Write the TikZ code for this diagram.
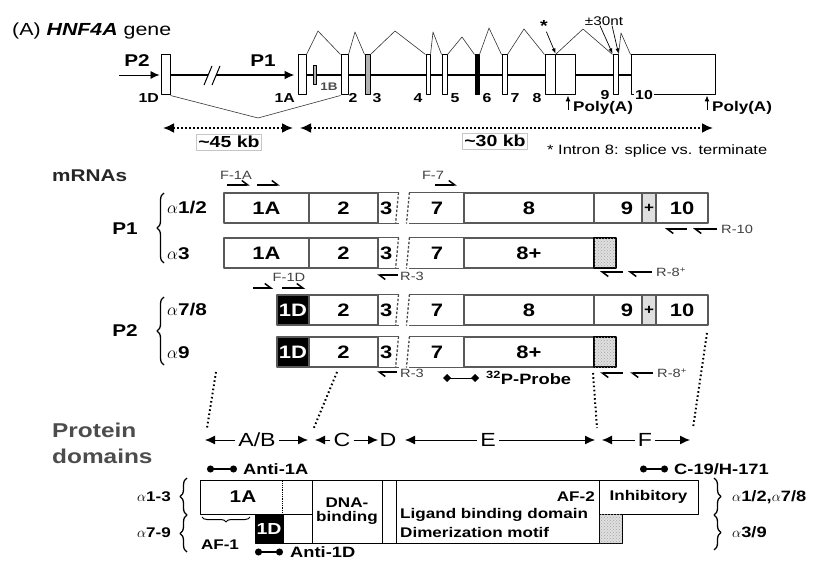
\documentclass[tikz,border=0pt]{standalone}
\usepackage{fontspec}
\setmainfont{Liberation Sans}[FakeStretch=1.22]
\usetikzlibrary{arrows.meta,decorations.pathreplacing,patterns,positioning}
\newcommand{\fsz}[1]{\fontsize{#1}{#1}\selectfont}

\begin{document}
\begin{tikzpicture}[x=1pt, y=1pt, >=Latex, line join=round]
	\useasboundingbox (0,0) rectangle (816,-561);

	% Define node styles
	\tikzstyle{exon} = [draw, fill=white, line width=1pt, inner sep=0pt, minimum height=40pt]
	\tikzstyle{exlab} = [font=\fsz{13}\bfseries, inner sep=0pt]
	\tikzstyle{gene} = [line width=1.8pt]
	\tikzstyle{splice} = [line width=0.6pt, black!80]
	\tikzstyle{thinarr} = [line width=0.7pt, -{Latex[length=5pt,width=4pt]}]
	\tikzstyle{polyarr} = [line width=1pt, -{Latex[length=6pt,width=5pt]}]
	\tikzstyle{kbrange} = [line width=2pt, dash pattern=on 2pt off 2pt, {Latex[length=11pt,width=10pt]}-{Latex[length=11pt,width=10pt]}]
	\tikzstyle{kb} = [draw=gray!45, line width=0.5pt, fill=white, inner sep=2pt, font=\fsz{16}\bfseries]
	\tikzstyle{bigbold} = [font=\fsz{17}\bfseries, inner sep=0pt]
	\tikzstyle{alab} = [font=\fsz{17}\bfseries, inner sep=0pt]
	\tikzstyle{seg} = [draw=black!65, line width=1.1pt, inner sep=0pt, minimum height=30pt, font=\fsz{18}\bfseries]
	\tikzstyle{segline} = [draw=black!65, line width=1.1pt]
	\tikzstyle{brk} = [draw=black!70, line width=1.3pt, dash pattern=on 2.5pt off 1.8pt]
	\tikzstyle{primer} = [line width=1.5pt, -{Straight Barb[left, length=6pt, width=9pt]}]
	\tikzstyle{plab} = [font=\fsz{12}, text=black!75, inner sep=0pt]
	\tikzstyle{probeline} = [line width=1pt, {Turned Square[length=8pt,width=8pt]}-{Turned Square[length=8pt,width=8pt]}]
	\tikzstyle{linkdots} = [line width=2pt, dash pattern=on 1.6pt off 2.6pt]
	\tikzstyle{dom} = [line width=1pt, -{Latex[length=10pt,width=9pt]}]
	\tikzstyle{domlab} = [font=\fsz{19}, inner sep=3pt]
	\tikzstyle{abline} = [line width=1.2pt, {Circle[length=7pt]}-{Circle[length=7pt]}]
	\tikzstyle{ablab} = [font=\fsz{15}\bfseries, inner sep=0pt]
	\tikzstyle{pbox} = [draw, line width=1pt, inner sep=0pt, font=\fsz{14}\bfseries, align=center]
	\tikzstyle{ptext} = [font=\fsz{14}\bfseries, inner sep=0pt]
	\tikzstyle{lbrace} = [decorate, decoration={brace, amplitude=7pt}, line width=1.3pt]

	% Gene
	\node[anchor=west, font=\fsz{17.5}, inner sep=0pt] (title) at (12,-31) {(A) \textbf{\textit{HNF4A}} gene};

	\node[exon, minimum width=9pt] (e1D) at (165.5,-75) {};
	\node[exon, minimum width=8pt] (e1A) at (302,-75) {};
	\node[exon, minimum width=7pt] (e2) at (344.5,-75) {};
	\node[exon, minimum width=5pt, fill=gray!60] (e3) at (367.5,-75) {};
	\node[exon, minimum width=4pt] (e4) at (428,-75) {};
	\node[exon, minimum width=5pt] (e5) at (444.5,-75) {};
	\node[exon, minimum width=4pt, fill=black] (e6) at (477,-75) {};
	\node[exon, minimum width=5pt] (e7) at (504.5,-75) {};
	\node[exon, minimum width=30pt] (e8) at (560,-75) {};
	\node[exon, minimum width=5pt] (e9) at (615.5,-75) {};
	\node[exon, minimum width=84pt] (e10) at (673,-75) {};
	\draw[line width=1pt] ([xshift=11pt]e8.north west) -- ([xshift=11pt]e8.south west);

	\foreach \src/\dst in {e1A/e2, e2/e3, e3/e4, e4/e5, e5/e6, e6/e7, e7/e8, e8/e9, e9/e10}
	\draw[gene] (\src.east) -- (\dst.west);
	\node[exon, minimum width=3pt, minimum height=19pt, fill=gray!60, line width=0.6pt] (e1B) at (314.5,-75) {};

	% Promoters
	\coordinate (p2start) at (119,-75);
	\draw[line width=0.8pt, -{Latex[length=9pt,width=8pt]}] (p2start) -- ([xshift=-1pt]e1D.west);
	\draw[gene, -{Latex[length=10pt,width=9pt]}] (e1D.east) -- ([xshift=-3pt]e1A.west);
	\fill[white] (204,-85) -- (212,-66) -- (220,-66) -- (212,-85) -- cycle;
	\draw[line width=1pt] (204,-85) -- (212,-66) (212,-85) -- (220,-66);
	\node[bigbold] (lP2) at (137,-61) {P2};
	\node[bigbold] (lP1) at (263,-61) {P1};

	% Splicing
	\draw[splice] (e1D.south east) -- (258,-118) -- (e2.south west);
	\foreach \src/\px/\py/\dst in {e1A/318/31/e2, e2/355/32/e3, e3/395/31/e4, e4/433/32/e5, e5/462/37/e6, e6/489/28/e7, e7/524/29/e8, e9/621/33/e10}
	\draw[splice] (\src.north east) -- (\px,-\py) -- (\dst.north west);
	\draw[splice] ([xshift=11pt]e8.north west) -- (583,-29) -- (e9.north west);

	% Exon labels
	\node[exlab, anchor=east] (l1D) at (159,-98) {1D};
	\node[exlab, anchor=east] (l1A) at (295,-98) {1A};
	\node[exlab, font=\fsz{11}\bfseries, text=black!70] (l1B) at (329,-87) {1B};
	\foreach \nm/\xx in {2/353, 3/377, 4/418, 5/455, 6/487, 7/515, 8/537}
	\node[exlab] (l\nm) at (\xx,-98) {\nm};
	\node[exlab] (l9) at (605,-95) {9};
	\node[exlab, fill=white, inner sep=1.5pt] (l10) at (644,-95) {10};

	\node[font=\fsz{16}\bfseries, inner sep=0pt] (star) at (544,-26) {*};
	\draw[thinarr] (star) -- ([xshift=11pt,yshift=1pt]e8.north west);
	\node[font=\fsz{12.5}, inner sep=0pt] (pm30) at (604,-21) {±30nt};
	\draw[thinarr] ([xshift=-4pt]pm30.south) -- ([yshift=1pt]e9.north west);
	\draw[thinarr] ([xshift=8pt]pm30.south) -- ([yshift=1pt]e9.north east);

	\coordinate (pa1) at (568,-110);
	\coordinate (pa2) at (707,-110);
	\draw[polyarr] (pa1) -- (pa1 |- e8.south);
	\draw[polyarr] (pa2) -- (pa2 |- e10.south);
	\node[ptext, anchor=west] (lpa1) at (573,-108) {Poly(A)};
	\node[ptext, anchor=west] (lpa2) at (712,-108) {Poly(A)};

	\coordinate (k45a) at (163,-128);
	\coordinate (k45b) at (293,-128);
	\coordinate (k30a) at (300,-128);
	\coordinate (k30b) at (713,-128);
	\draw[kbrange] (k45a) -- (k45b);
	\draw[kbrange] (k30a) -- (k30b);
	\node[kb] (k45) at (229,-142) {\textasciitilde 45 kb};
	\node[kb] (k30) at (495,-141) {\textasciitilde 30 kb};
	\node[anchor=west, font=\fsz{13.5}, inner sep=0pt] (intron) at (547,-151) {* Intron 8: splice vs. terminate};

	% mRNAs
	\node[anchor=west, font=\fsz{17}\bfseries, text=black!85, inner sep=0pt] (mrnas) at (52,-176) {mRNAs};
	\node[bigbold] (mP1) at (125,-229) {P1};
	\node[bigbold] (mP2) at (125,-331) {P2};
	\draw[lbrace] (164,-263) -- (164,-193);
	\draw[lbrace] (164,-365) -- (164,-297);
	\node[alab, anchor=west] (a12) at (167,-208) {$\alpha$1/2};
	\node[alab, anchor=west] (a3) at (167,-254) {$\alpha$3};
	\node[alab, anchor=west] (a78) at (167,-310) {$\alpha$7/8};
	\node[alab, anchor=west] (a9) at (167,-353) {$\alpha$9};

	\node[seg, minimum width=85pt] (r1x1A) at (266.5,-208) {1A};
	\node[seg, minimum width=85pt] (r2x1A) at (266.5,-253) {1A};
	\node[seg, minimum width=32pt, fill=black, text=white] (r3x1D) at (293,-310) {1D};
	\node[seg, minimum width=32pt, fill=black, text=white] (r4x1D) at (293,-352) {1D};

	\foreach \row/\yc in {r1/208, r2/253, r3/310, r4/352} {
		\node[seg, minimum width=69pt] (\row x2) at (343.5,-\yc) {2};
		\node[seg, draw=none, minimum width=20pt, text width=16pt, align=left] (\row x3) at (388,-\yc) {3};
		\node[seg, draw=none, minimum width=54pt] (\row x7) at (437,-\yc) {7};
		\draw[segline] (\row x3.north west) -- (\row x3.north east) (\row x3.south west) -- (\row x3.south east);
		\draw[segline] (\row x7.north west) -- (\row x7.north east) (\row x7.south west) -- (\row x7.south east);
		\draw[brk] (\row x3.north east) -- ([xshift=-3pt]\row x3.south east);
		\draw[brk] (\row x7.north west) -- ([xshift=-3pt]\row x7.south west);
	}
	\foreach \row/\yc in {r1/208, r3/310} {
		\node[seg, minimum width=130pt] (\row x8) at (529,-\yc) {8};
		\node[seg, minimum width=48pt, text width=30pt, align=right] (\row x9) at (618,-\yc) {9};
		\node[seg, minimum width=14pt, fill=gray!25, font=\fsz{14}\bfseries] (\row xp) at (649,-\yc) {+};
		\node[seg, minimum width=52pt] (\row x10) at (682,-\yc) {10};
	}
	\foreach \row/\yc in {r2/253, r4/352} {
		\node[seg, minimum width=130pt] (\row x8) at (529,-\yc) {8+};
		\node[seg, minimum width=22pt, draw=black, line width=1.5pt, fill=gray!25, postaction={pattern=crosshatch dots, pattern color=gray!70}] (\row xg) at (605,-\yc) {};
	}

	% Primers
	\foreach \xa/\xb/\yy in {227/250/185, 257/280/185, 435/457/185, 253/273/288, 282/305/288, 687/665/229, 717/693/229, 623/600/272, 652/628/272, 398/377/275, 397/377/372, 623/600/373, 653/630/373}
	\draw[primer] (\xa,-\yy) -- (\xb,-\yy);
	\node[plab] (pF1A) at (236,-175) {F-1A};
	\node[plab] (pF7) at (433,-175) {F-7};
	\node[plab] (pF1D) at (289,-277) {F-1D};
	\node[plab, anchor=west] (pR10) at (721,-229) {R-10};
	\node[plab, anchor=west] (pR8a) at (656,-272) {R-8\textsuperscript{+}};
	\node[plab, anchor=west] (pR3a) at (400,-276) {R-3};
	\node[plab, anchor=west] (pR3b) at (400,-373) {R-3};
	\node[plab, anchor=west] (pR8b) at (657,-373) {R-8\textsuperscript{+}};

	\coordinate (prA) at (443,-378);
	\coordinate (prB) at (479,-378);
	\draw[probeline] (prA) -- (prB);
	\node[anchor=west, font=\fsz{15}\bfseries, inner sep=0pt] (probe) at (486,-378) {\textsuperscript{32}P-Probe};

	% Links to protein
	\coordinate (lk1a) at (216,-372);
	\coordinate (lk1b) at (207,-428);
	\coordinate (lk2a) at (337,-372);
	\coordinate (lk2b) at (313,-430);
	\coordinate (lk3a) at (593,-373);
	\coordinate (lk3b) at (597,-428);
	\coordinate (lk4a) at (707,-333);
	\coordinate (lk4b) at (693,-428);
	\foreach \src/\dst in {lk1a/lk1b, lk2a/lk2b, lk3a/lk3b, lk4a/lk4b}
	\draw[linkdots] (\src) -- (\dst);

	% Protein domains
	\node[anchor=west, align=left, font=\fontsize{20}{26}\selectfont\bfseries, inner sep=0pt, text=black!70] (pdom) at (52,-443) {Protein\\domains};

	\node[domlab] (dAB) at (257,-440) {A/B};
	\node[domlab] (dC) at (342,-440) {C};
	\node[domlab] (dD) at (388,-440) {D};
	\node[domlab] (dE) at (488,-440) {E};
	\node[domlab] (dF) at (645,-440) {F};
	\foreach \lab/\xl/\xr in {dAB/205/308, dC/315/378, dE/405/595, dF/602/690} {
		\draw[dom] (\lab.west) -- (\xl,-440);
		\draw[dom] (\lab.east) -- (\xr,-440);
	}

	\coordinate (an1a) at (207,-469);
	\coordinate (an1b) at (237,-469);
	\coordinate (an2a) at (255,-552);
	\coordinate (an2b) at (283,-552);
	\coordinate (an3a) at (640,-469);
	\coordinate (an3b) at (668,-469);
	\draw[abline] (an1a) -- (an1b);
	\draw[abline] (an2a) -- (an2b);
	\draw[abline] (an3a) -- (an3b);
	\node[ablab, anchor=west] (lan1) at (243,-469) {Anti-1A};
	\node[ablab, anchor=west] (lan2) at (290,-552) {Anti-1D};
	\node[ablab, anchor=west] (lan3) at (674,-469) {C-19/H-171};

	\node[pbox, minimum width=112pt, minimum height=34pt] (p1A) at (256,-497) {};
	\node[ptext, font=\fsz{17}\bfseries] (t1A) at (243,-497) {1A};
	\draw[densely dotted, line width=0.8pt] ([xshift=83pt]p1A.north west) -- ([xshift=83pt]p1A.south west);
	\node[pbox, minimum width=28pt, minimum height=29pt, fill=black, text=white, font=\fsz{16}\bfseries] (p1D) at (269,-528.5) {1D};
	\node[pbox, minimum width=29pt, minimum height=29pt] (pgap) at (297.5,-528.5) {};
	\node[pbox, minimum width=70pt, minimum height=63pt] (pDNA) at (347,-511.5) {DNA-\\binding};
	\node[pbox, minimum width=14pt, minimum height=63pt] (pD) at (389,-511.5) {};
	\node[pbox, minimum width=203pt, minimum height=63pt] (pE) at (497.5,-511.5) {};
	\node[ptext, anchor=east] (tAF2) at (595,-497) {AF-2};
	\node[ptext, anchor=west] (tLBD) at (400,-515) {Ligand binding domain};
	\node[ptext, anchor=west] (tDim) at (400,-532) {Dimerization motif};
	\node[pbox, minimum width=99pt, minimum height=34pt] (pF) at (648.5,-497) {Inhibitory};
	\node[pbox, minimum width=23pt, minimum height=29pt, fill=gray!25, postaction={pattern=crosshatch dots, pattern color=gray!70}] (pgray) at (610.5,-528.5) {};

	\draw[decorate, decoration={brace, amplitude=5pt}, line width=1pt] (250,-517) -- (202,-517);
	\node[ptext] (tAF1) at (220,-545) {AF-1};

	\draw[lbrace] (187,-515) -- (187,-478);
	\draw[lbrace] (187,-552) -- (187,-515);
	\draw[lbrace] (714,-478) -- (714,-515);
	\draw[lbrace] (714,-515) -- (714,-550);
	\node[ptext, anchor=east] (a13) at (171,-497) {$\alpha$1-3};
	\node[ptext, anchor=east] (a79) at (171,-533) {$\alpha$7-9};
	\node[ptext, font=\fsz{15}\bfseries, anchor=west] (a1278) at (732,-497) {$\alpha$1/2,$\alpha$7/8};
	\node[ptext, font=\fsz{15}\bfseries, anchor=west] (a39) at (732,-532) {$\alpha$3/9};

\end{tikzpicture}
\end{document}
